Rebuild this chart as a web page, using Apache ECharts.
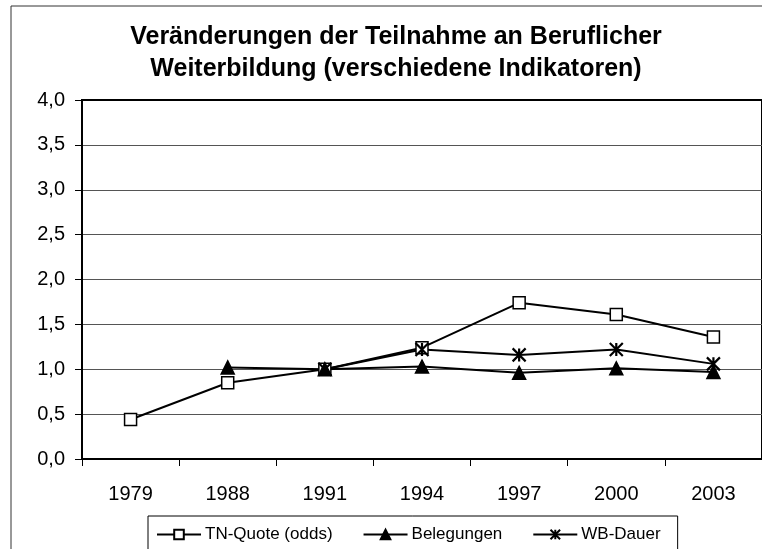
<!DOCTYPE html>
<html>
<head>
<meta charset="utf-8">
<script src="https://cdn.jsdelivr.net/npm/echarts@6/dist/echarts.min.js"></script>
<style>
  html, body { margin: 0; padding: 0; background: #fff; }
  #chart { width: 762px; height: 549px; }
</style>
</head>
<body>
<div id="chart"></div>
<script>
var years = ['1979', '1988', '1991', '1994', '1997', '2000', '2003'];
var tnQuote = [0.44, 0.85, 1.0, 1.24, 1.74, 1.61, 1.36];
var belegungen = [null, 1.02, 1.0, 1.03, 0.96, 1.01, 0.97];
var wbDauer = [null, null, 1.0, 1.22, 1.16, 1.22, 1.06];
var seriesNames = ['TN-Quote (odds)', 'Belegungen', 'WB-Dauer'];

var chart = echarts.init(document.getElementById('chart'));
var font = 'Liberation Sans, Arial, sans-serif';

// Sternchen-Marker fuer WB-Dauer
var starPath = 'path://M0,0L10,10M10,0L0,10M5,0L5,10';

function lineSeries(name, data, symbol, size, fill, bw) {
    return {
        name: name,
        type: 'line',
        data: data,
        symbol: symbol,
        symbolSize: size,
        showAllSymbol: true,
        connectNulls: false,
        lineStyle: { color: '#000', width: 2 },
        itemStyle: { color: fill, borderColor: '#000', borderWidth: bw },
        emphasis: { disabled: true }
    };
}

var option = {
    animation: false,
    textStyle: { fontFamily: font },
    title: {
        text: 'Veränderungen der Teilnahme an Beruflicher\nWeiterbildung (verschiedene Indikatoren)',
        left: 391,
        top: 16,
        textAlign: 'center',
        textStyle: { fontFamily: font, fontSize: 25, fontWeight: 'bold', lineHeight: 32, color: '#000' }
    },
    graphic: [{
        type: 'rect',
        shape: { x: 11, y: 6, width: 800, height: 600 },
        style: { fill: 'none', stroke: '#333', lineWidth: 1 },
        silent: true
    }],
    legend: {
        data: seriesNames,
        left: 148,
        top: 516,
        itemWidth: 44,
        itemHeight: 12,
        itemGap: 30,
        padding: [10, 17, 12, 8],
        borderColor: '#000',
        borderWidth: 1,
        textStyle: { fontFamily: font, fontSize: 17, color: '#000', padding: [0, 0, 0, -1] }
    },
    grid: {
        left: 82,
        top: 100,
        width: 686,
        height: 359,
        show: true,
        borderColor: '#000',
        borderWidth: 2,
        containLabel: false
    },
    xAxis: {
        type: 'category',
        data: years,
        boundaryGap: true,
        axisLine: { lineStyle: { color: '#000', width: 2 } },
        axisTick: { show: true, length: 7, lineStyle: { color: '#000' } },
        axisLabel: { color: '#000', fontSize: 20, margin: 25 },
        splitLine: { show: false }
    },
    yAxis: {
        type: 'value',
        min: 0,
        max: 4,
        interval: 0.5,
        axisLine: { show: true, lineStyle: { color: '#000', width: 2 } },
        axisTick: { show: true, length: 7, lineStyle: { color: '#000' } },
        axisLabel: {
            color: '#000',
            fontSize: 20,
            margin: 17,
            formatter: function (v) { return v.toFixed(1).replace('.', ','); }
        },
        splitLine: { show: true, lineStyle: { color: ['#000', '#555', '#555', '#555', '#555', '#555', '#555', '#555', '#000'], width: 1 } }
    },
    series: [
        lineSeries(seriesNames[0], tnQuote, 'rect', 12, '#fff', 1.5),
        lineSeries(seriesNames[1], belegungen, 'triangle', 13, '#000', 1.5),
        lineSeries(seriesNames[2], wbDauer, starPath, 13, 'none', 2.2)
    ]
};

chart.setOption(option);
</script>
</body>
</html>
